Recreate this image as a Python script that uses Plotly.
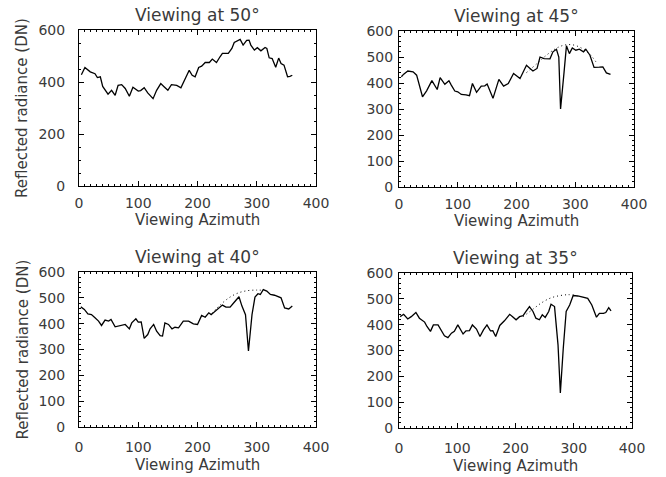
import plotly.graph_objects as go

# ---- data ----
az50 = [4,10,19,27,31,36,40,49,55,61,66,72,78,85,91,100,104,110,116,125,131,138,144,150,156,165,172,178,186,191,
        196,202,207,213,220,225,232,238,242,252,258,262,267,272,277,283,287,290,296,301,307,314,317,321,326,332,337,341,346,352,
        356,360]
rad50 = [428,456,439,432,417,420,383,353,368,349,387,390,375,345,380,365,367,378,358,336,368,394,381,368,390,387,378,407,445,426,
         420,456,461,475,475,488,475,497,510,510,529,552,557,564,542,560,561,542,523,532,520,533,529,493,490,457,492,471,465,420,
         422,426]

az45 = [4,8,15,24,30,34,40,47,56,65,70,78,85,89,95,100,106,114,120,125,132,140,146,150,160,170,178,186,195,206,
        211,217,223,228,235,240,247,257,262,268,272,275,281,285,290,295,301,307,314,318,325,332,341,347,353,360]
rad45 = [424,434,446,443,430,392,347,370,409,375,421,395,409,392,369,366,356,354,351,398,364,388,389,396,341,414,388,398,437,417,
         443,468,456,446,456,500,494,493,520,530,500,300,443,543,513,535,526,530,520,530,507,460,461,462,439,433]
fit45_az = [217,235,250,265,280,295,310,325,335]
fit45_rad = [440,475,505,530,545,547,535,510,482]

az40 = [3,9,15,21,27,33,38,44,50,54,61,69,78,85,89,96,100,105,110,116,120,126,131,137,141,145,151,157,162,168,
        176,185,193,200,207,213,219,223,230,235,242,248,255,262,270,275,281,286,292,297,302,306,311,317,323,330,336,341,347,354,
        360]
rad40 = [465,455,438,435,423,410,393,414,410,416,388,393,397,380,403,419,406,407,343,358,380,397,371,354,352,403,397,380,386,384,
         410,410,399,397,432,425,442,435,448,459,472,464,464,483,504,468,435,294,435,503,516,513,532,526,513,510,503,500,461,457,
         468]
fit40_az = [224,240,255,270,285,300,311]
fit40_rad = [440,476,503,520,528,530,529]

az35 = [2,8,15,21,29,35,44,48,54,59,67,73,78,84,90,95,101,110,115,121,126,133,139,145,151,157,161,166,173,181,
        190,195,201,207,213,218,224,230,235,241,246,251,257,261,267,273,277,282,287,293,299,307,315,324,331,339,344,351,355,360,
        364]
rad35 = [431,440,422,431,447,425,410,393,374,399,399,374,357,350,367,374,399,364,376,377,399,383,354,380,399,376,377,354,397,415,
         440,431,419,431,435,451,470,451,425,419,438,428,451,479,470,322,136,309,451,476,513,511,506,502,476,429,444,444,447,466,
         453]
fit35_az = [213,230,245,260,275,290,300]
fit35_rad = [431,460,485,503,512,516,515]

titles = ["Viewing at 50°", "Viewing at 45°", "Viewing at 40°", "Viewing at 35°"]
x_title = "Viewing Azimuth"
y_title = "Reflected radiance (DN)"

W, H = 666, 477
# panel boxes in pixels (left, right, top, bottom)
boxes = [(79, 316, 30, 186), (399, 634, 31, 187), (79, 316, 272, 427), (399, 632, 273, 428)]
xlab_gap = [4, 4, 7, 7]
xtitle_off = [34, 34, 38, 38]
ylab_gap = [10, 2, 10, 2]

FONT = "DejaVu Sans"
TXT = "#3a3a3a"

fig = go.Figure()

series = [(az50, rad50, None, None), (az45, rad45, fit45_az, fit45_rad),
          (az40, rad40, fit40_az, fit40_rad), (az35, rad35, fit35_az, fit35_rad)]

for i, (ax, ay, fx, fy) in enumerate(series):
    sfx = "" if i == 0 else str(i + 1)
    if fx is not None:
        fig.add_trace(go.Scatter(x=fx, y=fy, mode="lines",
                                 line=dict(color="black", width=1, dash="1px,3px", shape="spline"),
                                 xaxis="x" + sfx, yaxis="y" + sfx, showlegend=False, hoverinfo="skip"))
    fig.add_trace(go.Scatter(x=ax, y=ay, mode="lines", line=dict(color="black", width=1.3),
                             xaxis="x" + sfx, yaxis="y" + sfx, showlegend=False))

layout = dict(width=W, height=H, margin=dict(l=0, r=0, t=0, b=0, autoexpand=False),
              paper_bgcolor="white", plot_bgcolor="white",
              font=dict(family=FONT, color=TXT, size=14))
annotations = []
for i, (l, r, t, b) in enumerate(boxes):
    sfx = "" if i == 0 else str(i + 1)
    xd = [l / W, r / W]
    yd = [1 - b / H, 1 - t / H]
    ymajor = 200 if i == 0 else 100
    yminor = 50 if i == 0 else 20
    layout["xaxis" + sfx] = dict(domain=xd, range=[0, 400], anchor="y" + sfx, dtick=100, tick0=0,
                                 automargin=False,
                                 ticks="inside", ticklen=5, tickcolor="black", showline=True, linecolor="black",
                                 linewidth=1, mirror="ticks", showgrid=False, zeroline=False,
                                 tickfont=dict(size=14, color=TXT, family=FONT), ticklabelstandoff=xlab_gap[i],
                                 minor=dict(ticks="inside", ticklen=2, dtick=10, tickcolor="black", showgrid=False))
    layout["yaxis" + sfx] = dict(domain=yd, range=[0, 600], anchor="x" + sfx, dtick=ymajor, tick0=0,
                                 automargin=False,
                                 ticks="inside", ticklen=5, tickcolor="black", showline=True, linecolor="black",
                                 linewidth=1, mirror="ticks", showgrid=False, zeroline=False,
                                 tickfont=dict(size=14, color=TXT, family=FONT), ticklabelstandoff=ylab_gap[i],
                                 minor=dict(ticks="inside", ticklen=2, dtick=yminor, tickcolor="black", showgrid=False))
    cx = (l + r) / 2 / W
    annotations.append(dict(text=titles[i], x=cx, y=1 - (t - 15) / H, xref="paper", yref="paper",
                            showarrow=False, xanchor="center", yanchor="middle",
                            font=dict(size=17, color=TXT, family=FONT)))
    annotations.append(dict(text=x_title, x=cx, y=1 - (b + xtitle_off[i]) / H, xref="paper", yref="paper",
                            showarrow=False, xanchor="center", yanchor="middle",
                            font=dict(size=15, color=TXT, family=FONT)))
    if i % 2 == 0:
        annotations.append(dict(text=y_title, x=22 / W, y=1 - (t + b) / 2 / H, xref="paper", yref="paper",
                                showarrow=False, xanchor="center", yanchor="middle", textangle=-90,
                                font=dict(size=15, color=TXT, family=FONT)))
layout["annotations"] = annotations
fig.update_layout(**layout)
fig.write_html("out.html")
